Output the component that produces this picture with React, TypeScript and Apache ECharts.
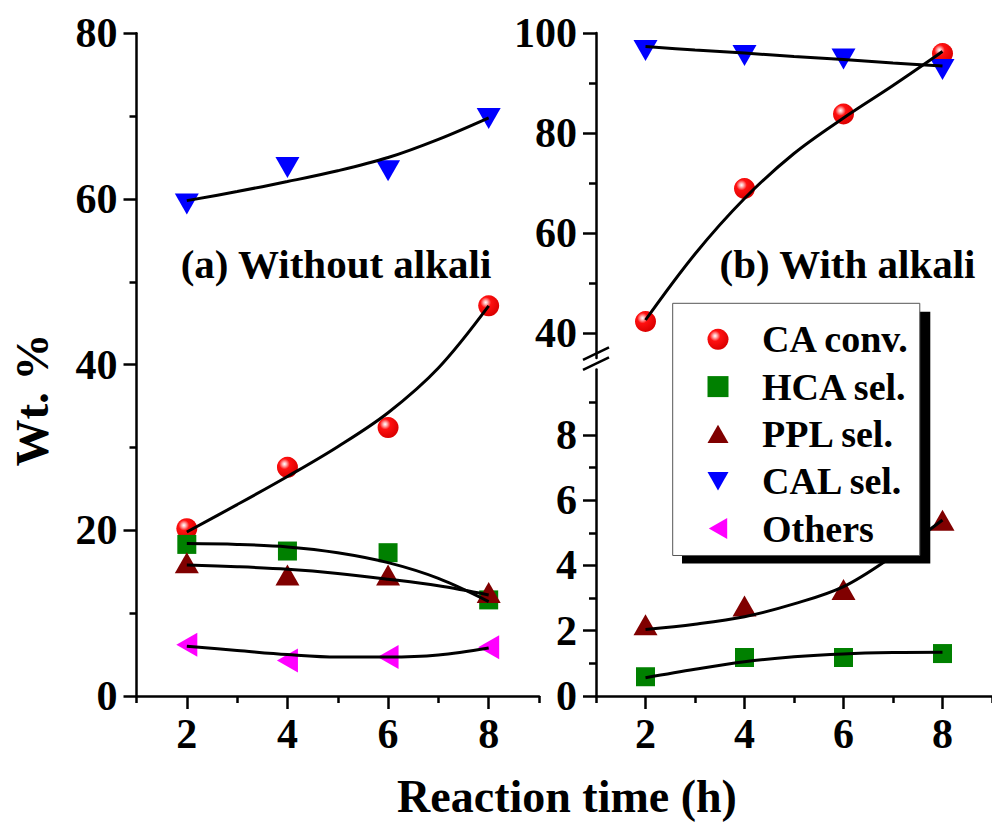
import React, { useEffect, useRef } from "react";
import * as echarts from "echarts";

// ---------- data ----------
const timeH = [2, 4, 6, 8];
const fitTimeH = [2, 3, 4, 5, 6, 7, 8];
const xMajorTicks = [2, 4, 6, 8];
const xMinorTicks = [1, 3, 5, 7, 9];

const legendNames = ["CA conv.", "HCA sel.", "PPL sel.", "CAL sel.", "Others"];

// (a) Without alkali
const aCAconv = [20.2, 27.6, 32.4, 47.1];
const aHCAsel = [18.3, 17.5, 17.3, 11.6];
const aPPLsel = [16.1, 14.6, 14.6, 12.5];
const aCALsel = [59.4, 63.8, 63.4, 69.7];
const aOthers = [6.2, 4.3, 4.7, 5.9];
const aCAfit = [19.8, 23.1, 26.5, 30.1, 34.2, 39.6, 47.1];
const aHCAfit = [18.4, 18.3, 18.0, 17.3, 16.1, 14.2, 11.4];
const aPPLfit = [15.8, 15.6, 15.3, 14.8, 14.1, 13.3, 12.2];
const aCALfit = [59.8, 60.9, 62.1, 63.4, 65.0, 67.2, 69.8];
const aOthersFit = [6.0, 5.5, 5.0, 4.7, 4.7, 4.95, 5.8];
const aYMajor = [0, 20, 40, 60, 80];
const aYMinor = [10, 30, 50, 70];

// (b) With alkali
const bCAconv = [42.3, 68.9, 83.8, 95.9];
const bCALsel = [96.5, 95.5, 94.8, 92.7];
const bHCAsel = [0.59, 1.18, 1.18, 1.3];
const bPPLsel = [2.18, 2.76, 3.26, 5.38];
const bCAfit = [42.6, 55.8, 66.9, 75.9, 83.0, 89.5, 96.3];
const bCALfit = [97.3, 96.6, 96.0, 95.3, 94.7, 94.0, 93.4];
const bPPLfit = [2.04, 2.2, 2.43, 2.82, 3.35, 4.29, 5.39];
const bHCAfit = [0.56, 0.82, 1.05, 1.2, 1.29, 1.33, 1.34];
const bTopYMajor = [40, 60, 80, 100];
const bTopYMinor = [50, 70, 90];
const bBotYMajor = [0, 2, 4, 6, 8];
const bBotYMinor = [1, 3, 5, 7, 9];

// ---------- styling / layout ----------
const FONT = "'Liberation Serif', 'Times New Roman', serif";
const AXIS_W = 2.5;
const W = 992;
const H = 823;

const gridA = { left: 136.5, top: 33.3, width: 402.5, height: 662.7 };
const gridBTop = { left: 596, top: 33, width: 402.5, height: 325 };
const gridBBot = { left: 596, top: 369.5, width: 402.5, height: 326.5 };

const legendBox = { left: 672.7, top: 303.3, width: 248.3, height: 251.7 };
const shadowOffset = { x: 9.3, y: 8.4 };

const TRI_UP = "path://M12,0 L24,21 L0,21 Z";
const TRI_DOWN = "path://M0,0 L24,0 L12,21 Z";
const TRI_LEFT = "path://M0,12 L21,0 L21,24 Z";

const sphere = {
  type: "radial",
  x: 0.36,
  y: 0.34,
  r: 0.66,
  colorStops: [
    { offset: 0, color: "#ffffff" },
    { offset: 0.14, color: "#ffb4b4" },
    { offset: 0.38, color: "#ff1010" },
    { offset: 1, color: "#dc0000" },
  ],
};

const seriesStyle: Record<string, any> = {
  "CA conv.": { symbol: "circle", symbolSize: 21, color: sphere },
  "HCA sel.": { symbol: "rect", symbolSize: 19, color: "#008000" },
  "PPL sel.": { symbol: TRI_UP, symbolSize: [24, 21], color: "#800000" },
  "CAL sel.": { symbol: TRI_DOWN, symbolSize: [24, 21], color: "#0000ff" },
  Others: { symbol: TRI_LEFT, symbolSize: [21, 24], color: "#ff00ff" },
};

const labelStyle = {
  fontFamily: FONT,
  fontWeight: "bold" as const,
  fontSize: 42,
  color: "#000",
};

function xAxes(gridIndex: number) {
  return [
    {
      type: "value",
      gridIndex,
      min: 1,
      max: 9,
      position: "bottom",
      axisLine: { show: true, onZero: false, lineStyle: { color: "#000", width: AXIS_W } },
      axisTick: { show: true, inside: false, length: 13, customValues: xMajorTicks, lineStyle: { color: "#000", width: AXIS_W } },
      axisLabel: { show: true, customValues: xMajorTicks, margin: 17, ...labelStyle },
      splitLine: { show: false },
    },
    {
      type: "value",
      gridIndex,
      min: 1,
      max: 9,
      position: "bottom",
      axisLine: { show: false, onZero: false },
      axisTick: { show: true, inside: false, length: 7, customValues: xMinorTicks, lineStyle: { color: "#000", width: AXIS_W } },
      axisLabel: { show: false },
      splitLine: { show: false },
    },
  ];
}

function yAxes(gridIndex: number, min: number, max: number, major: number[], minor: number[]) {
  return [
    {
      type: "value",
      gridIndex,
      min,
      max,
      position: "left",
      axisLine: { show: true, onZero: false, lineStyle: { color: "#000", width: AXIS_W } },
      axisTick: { show: true, inside: false, length: 13, customValues: major, lineStyle: { color: "#000", width: AXIS_W } },
      axisLabel: { show: true, customValues: major, margin: 19, ...labelStyle },
      splitLine: { show: false },
    },
    {
      type: "value",
      gridIndex,
      min,
      max,
      position: "left",
      axisLine: { show: false, onZero: false },
      axisTick: { show: true, inside: false, length: 7, customValues: minor, lineStyle: { color: "#000", width: AXIS_W } },
      axisLabel: { show: false },
      splitLine: { show: false },
    },
  ];
}

function pts(xs: number[], ys: number[]) {
  return xs.map((x, i) => [x, ys[i]]);
}

function scatter(name: string, values: number[], xAxisIndex: number, yAxisIndex: number) {
  const s = seriesStyle[name];
  return {
    type: "scatter",
    name,
    xAxisIndex,
    yAxisIndex,
    data: pts(timeH, values),
    symbol: s.symbol,
    symbolSize: s.symbolSize,
    itemStyle: { color: s.color, opacity: 1 },
    z: 3,
    silent: true,
  };
}

function fit(values: number[], xAxisIndex: number, yAxisIndex: number) {
  return {
    type: "line",
    name: "fit",
    xAxisIndex,
    yAxisIndex,
    data: pts(fitTimeH, values),
    smooth: 0.35,
    showSymbol: false,
    symbol: "none",
    lineStyle: { color: "#000", width: 3 },
    z: 4,
    silent: true,
  };
}

function text(str: string, x: number, y: number, size: number, rotation = 0) {
  return {
    type: "text",
    x,
    y,
    rotation,
    z: 20,
    style: {
      text: str,
      fill: "#000",
      font: `bold ${size}px ${FONT}`,
      textAlign: "center",
      textVerticalAlign: "middle",
    },
  };
}

export default function App() {
  const ref = useRef<HTMLDivElement>(null);

  useEffect(() => {
    document.body.style.margin = "0";
    if (!ref.current) return;
    const chart = echarts.init(ref.current, undefined, { renderer: "svg" });

    const axisX = gridBTop.left;
    const breakMid = (gridBTop.top + gridBTop.height + gridBBot.top) / 2;

    const option: any = {
      animation: false,
      backgroundColor: "#fff",
      grid: [
        { ...gridA, containLabel: false },
        { ...gridBTop, containLabel: false },
        { ...gridBBot, containLabel: false },
      ],
      xAxis: [
        ...xAxes(0), // 0,1
        { type: "value", gridIndex: 1, min: 1, max: 9, show: false }, // 2
        ...xAxes(2), // 3,4
      ],
      yAxis: [
        ...yAxes(0, 0, 80, aYMajor, aYMinor), // 0,1
        ...yAxes(1, 35, 100, bTopYMajor, bTopYMinor), // 2,3
        ...yAxes(2, 0, 10, bBotYMajor, bBotYMinor), // 4,5
      ],
      legend: {
        show: true,
        data: legendNames.map((n) => ({ name: n, icon: seriesStyle[n].symbol })),
        orient: "vertical",
        left: legendBox.left,
        top: legendBox.top,
        padding: [16, 10, 7, 34.8],
        itemWidth: 21,
        itemHeight: 21,
        itemGap: 7.3,
        backgroundColor: "#fff",
        borderColor: "#555",
        borderWidth: 1,
        selectedMode: false,
        z: 10,
        textStyle: {
          fontFamily: FONT,
          fontWeight: "bold",
          fontSize: 38,
          lineHeight: 40,
          color: "#000",
          padding: [0, 0, 0, 28.5],
        },
      },
      series: [
        scatter("CA conv.", aCAconv, 0, 0),
        scatter("HCA sel.", aHCAsel, 0, 0),
        scatter("PPL sel.", aPPLsel, 0, 0),
        scatter("CAL sel.", aCALsel, 0, 0),
        scatter("Others", aOthers, 0, 0),
        fit(aCAfit, 0, 0),
        fit(aHCAfit, 0, 0),
        fit(aPPLfit, 0, 0),
        fit(aCALfit, 0, 0),
        fit(aOthersFit, 0, 0),
        scatter("CA conv.", bCAconv, 2, 2),
        scatter("CAL sel.", bCALsel, 2, 2),
        fit(bCAfit, 2, 2),
        fit(bCALfit, 2, 2),
        scatter("HCA sel.", bHCAsel, 3, 4),
        scatter("PPL sel.", bPPLsel, 3, 4),
        fit(bPPLfit, 3, 4),
        fit(bHCAfit, 3, 4),
      ],
      graphic: [
        {
          type: "rect",
          z: 9,
          shape: {
            x: legendBox.left + shadowOffset.x,
            y: legendBox.top + shadowOffset.y,
            width: legendBox.width,
            height: legendBox.height,
          },
          style: { fill: "#000" },
        },
        {
          type: "line",
          z: 20,
          shape: { x1: axisX - 13, y1: breakMid - 3.8, x2: axisX + 13, y2: breakMid - 16.4 },
          style: { stroke: "#000", lineWidth: 2.5 },
        },
        {
          type: "line",
          z: 20,
          shape: { x1: axisX - 13, y1: breakMid + 6.2, x2: axisX + 13, y2: breakMid - 6.4 },
          style: { stroke: "#000", lineWidth: 2.5 },
        },
        text("(a) Without alkali", 336, 264, 41),
        text("(b) With alkali", 847.5, 264, 41),
        text("Wt. %", 32, 400, 47, Math.PI / 2),
        text("Reaction time (h)", 567, 796, 46),
      ],
    };

    chart.setOption(option);
    return () => chart.dispose();
  }, []);

  return <div ref={ref} style={{ width: W, height: H }} />;
}
